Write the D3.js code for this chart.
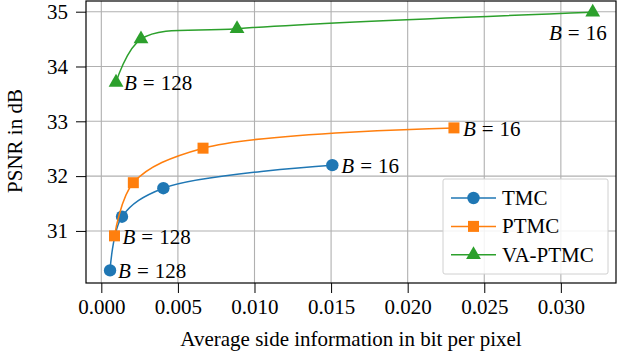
<!DOCTYPE html>
<html lang="en">
<head>
  <meta charset="UTF-8">
  <title>PSNR vs side information</title>
  <style>
    body { margin: 0; background: #fff; }
    svg { display: block; font-family: "Liberation Serif", "DejaVu Serif", serif; }
  </style>
</head>
<body>
  <div id="chart"></div>
  <script src="https://d3js.org/d3.v7.min.js"></script>
  <script>
    // Data (bits per pixel, PSNR in dB)
    const seriesNames = ["TMC", "PTMC", "VA-PTMC"];
    const tmcX = [0.00057, 0.00135, 0.00405, 0.01508];
    const tmcY = [30.28, 31.26, 31.78, 32.20];
    const ptmcX = [0.00086, 0.00209, 0.00664, 0.02302];
    const ptmcY = [30.91, 31.88, 32.51, 32.88];
    const vaX = [0.00096, 0.00259, 0.00886, 0.03208];
    const vaY = [33.71, 34.50, 34.69, 34.99];
    const xTicks = [0, 0.005, 0.010, 0.015, 0.020, 0.025, 0.030];
    const yTicks = [31, 32, 33, 34, 35];

    const colors = ["#1f77b4", "#ff7f0e", "#2ca02c"];
    const markers = ["circle", "square", "triangle"];

    const series = [
      { name: seriesNames[0], x: tmcX, y: tmcY },
      { name: seriesNames[1], x: ptmcX, y: ptmcY },
      { name: seriesNames[2], x: vaX, y: vaY }
    ];

    const W = 622, H = 356;
    const margin = { top: 1, right: 6, bottom: 73, left: 86 },
          width = W - margin.left - margin.right,
          height = H - margin.top - margin.bottom;

    const x = d3.scaleLinear().domain([-0.001, 0.0336]).range([0, width]);
    const y = d3.scaleLinear().domain([30.05, 35.195]).range([height, 0]);

    const root = d3.select("#chart").append("svg")
      .attr("width", W).attr("height", H);
    const svg = root.append("g")
      .attr("transform", `translate(${margin.left},${margin.top})`);

    // grid
    svg.append("g").selectAll("line").data(xTicks).join("line")
      .attr("x1", d => x(d)).attr("x2", d => x(d))
      .attr("y1", 0).attr("y2", height)
      .attr("stroke", "#b0b0b0").attr("stroke-width", 1.1);
    svg.append("g").selectAll("line").data(yTicks).join("line")
      .attr("y1", d => y(d)).attr("y2", d => y(d))
      .attr("x1", 0).attr("x2", width)
      .attr("stroke", "#b0b0b0").attr("stroke-width", 1.1);

    // axes
    const fmtX = d3.format(".3f");
    const xAxis = svg.append("g")
      .attr("transform", `translate(0,${height})`)
      .call(d3.axisBottom(x).tickValues(xTicks).tickFormat(fmtX).tickSize(10).tickPadding(6));
    const yAxis = svg.append("g")
      .call(d3.axisLeft(y).tickValues(yTicks).tickFormat(d3.format("d")).tickSize(10).tickPadding(8));
    [xAxis, yAxis].forEach(g => {
      g.select(".domain").remove();
      g.selectAll("line").attr("stroke", "#000").attr("stroke-width", 1);
      g.selectAll("text").attr("fill", "#000")
        .style("font-size", "21px")
        .style("font-family", "'Liberation Serif', serif");
    });

    // frame
    svg.append("rect")
      .attr("x", 0).attr("y", 0).attr("width", width).attr("height", height)
      .attr("fill", "none").attr("stroke", "#000").attr("stroke-width", 1.2);

    // curves
    const line = d3.line()
      .x(d => x(d[0])).y(d => y(d[1]))
      .curve(d3.curveCatmullRom.alpha(0.5));

    const symbolFor = {
      circle: d3.symbol().type(d3.symbolCircle).size(Math.PI * 6.2 * 6.2),
      square: d3.symbol().type(d3.symbolSquare).size(11 * 11),
      triangle: d3.symbol().type(d3.symbolTriangle).size(95)
    };

    series.forEach((s, i) => {
      const pts = s.x.map((v, j) => [v, s.y[j]]);
      svg.append("path")
        .attr("d", line(pts))
        .attr("fill", "none")
        .attr("stroke", colors[i])
        .attr("stroke-width", 1.5);
      svg.append("g").selectAll("path").data(pts).join("path")
        .attr("transform", d => `translate(${x(d[0])},${y(d[1])})`)
        .attr("d", symbolFor[markers[i]]())
        .attr("fill", colors[i]);
    });

    // B annotations (math-style spacing around "=")
    function mathLabel(px, py, value, anchor) {
      const t = svg.append("text")
        .attr("x", px).attr("y", py)
        .attr("text-anchor", anchor || "start")
        .style("font-size", "21px")
        .attr("fill", "#000");
      t.append("tspan").style("font-style", "italic").text("B");
      t.append("tspan").attr("dx", 6).text("=");
      t.append("tspan").attr("dx", 6).text(value);
    }
    const lastIdx = 3;
    series.forEach((s, i) => {
      const px0 = x(s.x[0]), py0 = y(s.y[0]);
      mathLabel(px0 + 8, py0 + 8, "128");
      const pxN = x(s.x[lastIdx]), pyN = y(s.y[lastIdx]);
      if (i < 2) mathLabel(pxN + 9, pyN + 8, "16");
      else mathLabel(pxN + 14, pyN + 28, "16", "end");
    });

    // axis labels
    svg.append("text")
      .attr("x", width / 2).attr("y", height + 63)
      .attr("text-anchor", "middle")
      .style("font-size", "21px")
      .text("Average side information in bit per pixel");
    svg.append("text")
      .attr("transform", `translate(${-64},${height / 2 - 1}) rotate(-90)`)
      .attr("text-anchor", "middle")
      .style("font-size", "21px")
      .text("PSNR in dB");

    // legend
    const lg = svg.append("g").attr("transform", `translate(${443 - margin.left},${179 - margin.top})`);
    lg.append("rect")
      .attr("width", 165).attr("height", 95).attr("rx", 2)
      .attr("fill", "#fff").attr("fill-opacity", 0.85)
      .attr("stroke", "#d0d0d0").attr("stroke-width", 1);
    series.forEach((s, i) => {
      const ly = 19 + i * 28.4;
      lg.append("line")
        .attr("x1", 8).attr("x2", 53).attr("y1", ly).attr("y2", ly)
        .attr("stroke", colors[i]).attr("stroke-width", 1.5);
      lg.append("path")
        .attr("transform", `translate(30.5,${ly})`)
        .attr("d", symbolFor[markers[i]]())
        .attr("fill", colors[i]);
      lg.append("text")
        .attr("x", 59).attr("y", ly + 7)
        .style("font-size", "21px")
        .text(s.name);
    });
  </script>
</body>
</html>
